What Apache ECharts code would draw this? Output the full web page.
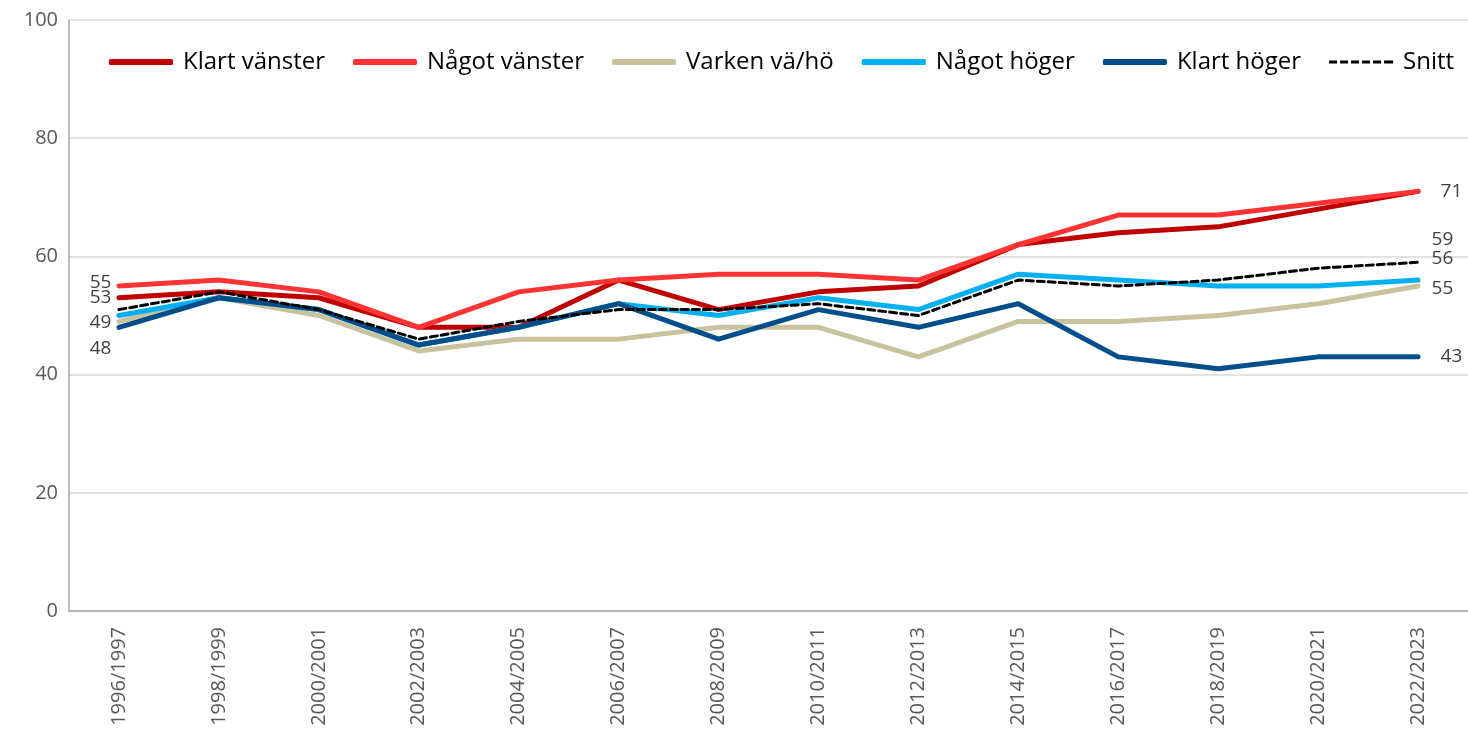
<!DOCTYPE html>
<html>
<head>
<meta charset="utf-8">
<script src="https://cdn.jsdelivr.net/npm/echarts@6/dist/echarts.min.js"></script>
<style>
  html, body { margin: 0; padding: 0; background: #fff; }
  #chart { width: 1468px; height: 733px; }
</style>
</head>
<body>
<div id="chart"></div>
<script>
// data
const years = ['1996/1997', '1998/1999', '2000/2001', '2002/2003', '2004/2005', '2006/2007', '2008/2009',
  '2010/2011', '2012/2013', '2014/2015', '2016/2017', '2018/2019', '2020/2021', '2022/2023']
const klartVanster = [53, 54, 53, 48, 48, 56, 51, 54, 55, 62, 64, 65, 68, 71]
const nagotVanster = [55, 56, 54, 48, 54, 56, 57, 57, 56, 62, 67, 67, 69, 71]
const varken = [49, 53, 50, 44, 46, 46, 48, 48, 43, 49, 49, 50, 52, 55]
const nagotHoger = [50, 53, 51, 45, 48, 52, 50, 53, 51, 57, 56, 55, 55, 56]
const klartHoger = [48, 53, 51, 45, 48, 52, 46, 51, 48, 52, 43, 41, 43, 43]
const snitt = [51, 54, 51, 46, 49, 51, 51, 52, 50, 56, 55, 56, 58, 59]
const yTicks = [0, 20, 40, 60, 80, 100]

const labelFont = { fontFamily: 'Open Sans', fontSize: 19, color: '#404040' }

// value labels only on the first / last point
function withLabels(vals, first, last) {
    return vals.map((v, i) => {
        if (i === 0 && first) {
            return { value: v, label: Object.assign({ show: true, position: 'left', distance: 7, offset: first.offset || [0, 0] }, labelFont) }
        }
        if (i === vals.length - 1 && last) {
            return { value: v, label: Object.assign({ show: true, position: 'right', distance: last.distance || 13, offset: last.offset || [0, 0] }, labelFont) }
        }
        return v
    })
}

function line(name, color, vals, first, last, width, dash) {
    return {
        name: name,
        type: 'line',
        symbol: 'circle',
        symbolSize: 1,
        data: withLabels(vals, first, last),
        lineStyle: { color: color, width: width || 5, cap: 'round', join: 'round', type: dash || 'solid' },
        itemStyle: { color: color },
        emphasis: { disabled: true }
    }
}

// dashed legend icon for Snitt
const dashIcon = 'path://M0,0h8v3h-8zM11,0h8v3h-8zM22,0h8v3h-8zM33,0h8v3h-8zM44,0h8v3h-8zM55,0h9v3h-9z'

const myChart = echarts.init(document.getElementById('chart'))
myChart.setOption({
    animation: false,
    grid: { left: 69, right: -4, top: 20, bottom: 122 },
    legend: {
        top: 45,
        left: 104,
        itemWidth: 64,
        itemHeight: 6,
        itemGap: 28,
        textStyle: { fontFamily: 'Open Sans', fontSize: 24, color: '#000', padding: [0, 0, 0, 5] },
        data: [
            { name: 'Klart vänster', icon: 'roundRect' },
            { name: 'Något vänster', icon: 'roundRect' },
            { name: 'Varken vä/hö', icon: 'roundRect' },
            { name: 'Något höger', icon: 'roundRect' },
            { name: 'Klart höger', icon: 'roundRect' },
            { name: 'Snitt', icon: dashIcon }
        ]
    },
    xAxis: {
        type: 'category',
        data: years,
        boundaryGap: true,
        axisLine: { lineStyle: { color: '#a6a6a6', width: 1.5 } },
        axisTick: { show: false },
        axisLabel: { rotate: 90, margin: 16, fontFamily: 'Open Sans', fontSize: 20, color: '#595959' }
    },
    yAxis: {
        type: 'value',
        min: yTicks[0],
        max: yTicks[yTicks.length - 1],
        interval: 20,
        axisLine: { show: true, lineStyle: { color: '#a6a6a6', width: 1.5 } },
        axisTick: { show: false },
        splitLine: { lineStyle: { color: '#d9d9d9', width: 1.5 } },
        axisLabel: { margin: 11, fontFamily: 'Open Sans', fontSize: 20, color: '#595959' }
    },
    series: [
        line('Klart vänster', '#c00000', klartVanster, { offset: [0, 0] }, { distance: 22 }),
        line('Något vänster', '#ff3333', nagotVanster, { offset: [0, -3] }, null),
        line('Varken vä/hö', '#c9c29f', varken, { offset: [0, 1] }, { offset: [0, 3] }),
        line('Något höger', '#00b0f0', nagotHoger, null, { offset: [0, -21] }),
        line('Klart höger', '#004f8a', klartHoger, { offset: [0, 21] }, { distance: 22 }),
        line('Snitt', '#000000', snitt, null, { offset: [0, -23] }, 3, [7, 4])
    ]
})
</script>
</body>
</html>
